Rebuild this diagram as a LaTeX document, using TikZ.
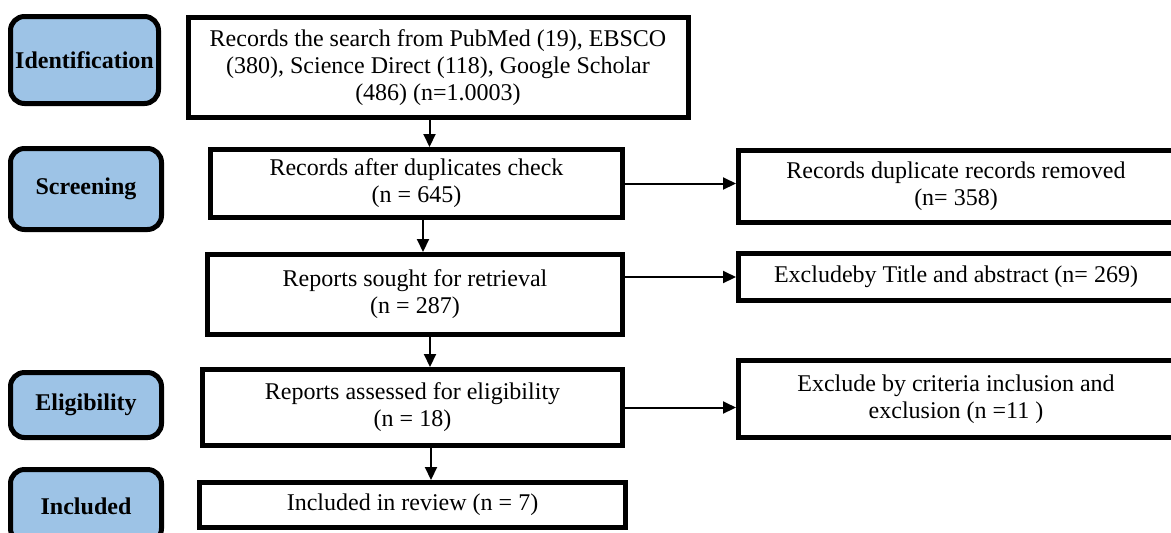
\documentclass[tikz,border=0pt]{standalone}
\usepackage{fontspec}
\setmainfont{Liberation Serif}
\usetikzlibrary{arrows.meta}
\definecolor{stageblue}{RGB}{157,195,230}
\begin{document}
\begin{tikzpicture}[x=0.5pt, y=-0.5pt,
	stage/.style = {draw, line width=2.5pt, rounded corners=7pt, fill=stageblue, inner sep=0pt,
		font=\fontsize{12pt}{13.5pt}\selectfont\bfseries, minimum width=75.5pt},
	box/.style = {draw, line width=2.5pt, fill=white, inner sep=0pt, align=center,
		font=\fontsize{12pt}{13.5pt}\selectfont},
	arr/.style = {line width=1pt, -{Triangle[length=6.5pt, width=6pt]}}]
	\useasboundingbox (0,0) rectangle (1171,532);
	\clip (0,0) rectangle (1171,532);
	% stages
	\node (S1) at ( 84.5,  60)	[stage, minimum width=74pt, minimum height=43.5pt]	{Identification};
	\node (S2) at ( 86,   189)	[stage, minimum height=40.5pt]	{Screening};
	\node (S3) at ( 86,   405)	[stage, minimum height=32.5pt]	{Eligibility};
	\node (S4) at ( 86,   506)	[stage, minimum height=36.5pt]	{Included};
	% main flow
	\node (M1) at (438,   67.5)	[box, minimum width=250pt, minimum height=50pt]
		{Records the search from PubMed (19), EBSCO\\(380), Science Direct (118), Google Scholar\\(486) (n=1.0003)};
	\node (M2) at (416.5, 183.5)	[box, minimum width=206pt, minimum height=34pt]	{Records after duplicates check\\(n = 645)};
	\node (M3) at (415,   294.5)	[box, minimum width=207.5pt, minimum height=40pt]	{Reports sought for retrieval\\(n = 287)};
	\node (M4) at (412.5, 407.5)	[box, minimum width=210pt, minimum height=38pt]	{Reports assessed for eligibility\\(n = 18)};
	\node (M5) at (412.5, 505)	[box, minimum width=213pt, minimum height=22.5pt]	{Included in review (n = 7)};
	% exclusions
	\node (E1) at (956,   186.5)	[box, minimum width=217.5pt, minimum height=36pt]	{Records duplicate records removed\\(n= 358)};
	\node (E2) at (956,   277)	[box, minimum width=217.5pt, minimum height=23.5pt]	{Excludeby Title and abstract (n= 269)};
	\node (E3) at (956,   399)	[box, minimum width=217.5pt, minimum height=38.5pt]	{Exclude by criteria inclusion and\\exclusion (n =11 )};
	% arrows
	\draw[arr] ([xshift=6.5pt]M2.north |- M1.south) -- ([xshift=6.5pt]M2.north);
	\draw[arr] ([xshift=4pt]M3.north |- M2.south) -- ([xshift=4pt]M3.north);
	\draw[arr] ([xshift=8.75pt]M4.north |- M3.south) -- ([xshift=8.75pt]M4.north);
	\draw[arr] ([xshift=9.25pt]M5.north |- M4.south) -- ([xshift=9.25pt]M5.north);
	\draw[arr] (M2.east) -- (M2.east -| E1.west);
	\draw[arr] (M3.east |- E2.west) -- (E2.west);
	\draw[arr] (M4.east) -- (M4.east -| E3.west);
\end{tikzpicture}
\end{document}
